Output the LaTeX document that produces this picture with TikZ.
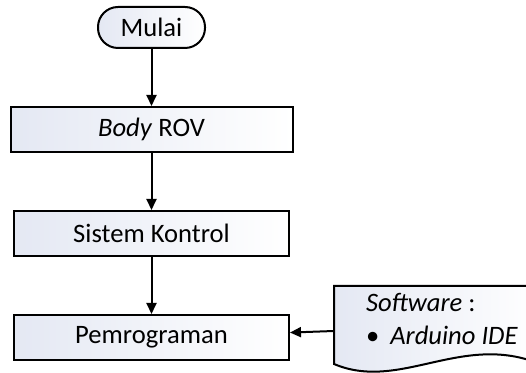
\documentclass[tikz,border=0pt]{standalone}
\usepackage{fontspec}
\setmainfont{Carlito}
\usepackage{xcolor}
\usetikzlibrary{arrows.meta,positioning}

\definecolor{boxfill}{RGB}{228,232,243}

\begin{document}
\begin{tikzpicture}[x=0.5pt, y=-0.5pt, node distance=28.5pt, line width=1pt,
    >={Triangle[length=5.5pt,width=5pt]},
    txt/.style={font=\fontsize{13.3}{16.5}\selectfont},
    box/.style={draw, rectangle, txt, minimum width=137.5pt, minimum height=22.5pt,
        left color=boxfill, right color=white},
    term/.style={draw, rectangle, txt, rounded corners=10pt, minimum width=53.5pt,
        minimum height=20.5pt, left color=boxfill, right color=white}]
    \useasboundingbox (0,0) rectangle (526,373);

    % Flow
    \node[term] (start) at (151.5,27.5) {Mulai};
    \node[box, minimum width=141pt, below=of start] (body) {\textit{Body} ROV};
    \node[box, below=of body] (ctrl) {Sistem Kontrol};
    \node[box, below=of ctrl] (prog) {Pemrograman};

    \draw[->] (start) -- (body);
    \draw[->] (body) -- (ctrl);
    \draw[->] (ctrl) -- (prog);

    % Software document
    \shade[draw, left color=boxfill, right color=white]
        (334,286) -- (540,286) -- (540,364)
        .. controls (462,332) and (400,392) .. (334,364) -- cycle;
    \node[txt, anchor=north west, align=left, inner sep=0pt] (soft) at (365,292)
        {\textit{Software} :\\ \textbullet\hspace{5.5pt}\textit{Arduino IDE}};
    \coordinate (docin) at (334,331);

    \draw[->] (docin) -- (prog);
\end{tikzpicture}
\end{document}
